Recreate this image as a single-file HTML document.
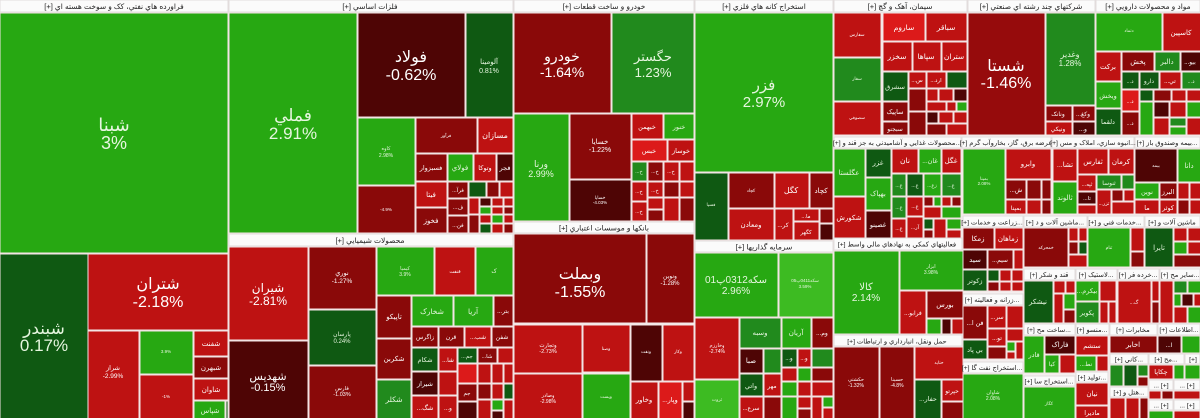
<!DOCTYPE html>
<html><head><meta charset="utf-8">
<style>
html,body{margin:0;padding:0;background:#f4eeee;width:1200px;height:418px;overflow:hidden}
svg{display:block;font-family:"Liberation Sans","DejaVu Sans",sans-serif}
rect{stroke:#f3e4e4;stroke-width:1}
.g1{fill:#27a812}.g4{fill:#3dbb22}.g2{fill:#218a1d}.g3{fill:#0f5912}
.r1{fill:#be1212}.r4{fill:#dc1a1a}.r2{fill:#8a0909}.r3{fill:#4e0505}.r6{fill:#960b0c}
.hd{fill:#fbfbfb;stroke:#e2dcdc}
text{text-anchor:middle;fill:#fff}
.lg{fill:#e6f6df}
.h{fill:#222;font-size:7.5px;direction:rtl;unicode-bidi:embed}
.hs{fill:#222;font-size:6.8px;direction:rtl;unicode-bidi:embed}
</style></head><body>
<svg width="1200" height="418" viewBox="0 0 1200 418" xmlns="http://www.w3.org/2000/svg">
<!-- top headers -->
<rect class="hd" x="0" y="0" width="228" height="12"/>
<rect class="hd" x="229" y="0" width="284" height="12"/>
<rect class="hd" x="514" y="0" width="180" height="12"/>
<rect class="hd" x="695" y="0" width="138" height="12"/>
<rect class="hd" x="834" y="0" width="133" height="12"/>
<rect class="hd" x="968" y="0" width="127" height="12"/>
<rect class="hd" x="1096" y="0" width="104" height="12"/>
<text class="h" x="114" y="9">فراورده هاي نفتي، کک و سوخت هسته اي [+]</text>
<text class="h" x="370" y="9">فلزات اساسي [+]</text>
<text class="h" x="604" y="9">خودرو و ساخت قطعات [+]</text>
<text class="h" x="764" y="9">استخراج کانه هاي فلزي [+]</text>
<text class="h" x="900" y="9">سيمان، آهک و گچ [+]</text>
<text class="h" x="1031" y="9">شرکتهاي چند رشته اي صنعتي [+]</text>
<text class="h" x="1148" y="9">مواد و محصولات دارويي [+]</text>

<!-- Sector 1 -->
<rect class="g1" x="0" y="13" width="228" height="240"/>
<rect class="g3" x="0" y="254" width="88" height="165"/>
<rect class="r1" x="88" y="254" width="140" height="76"/>
<rect class="r1" x="88" y="331" width="51" height="88"/>
<rect class="g1" x="140" y="331" width="53" height="43"/>
<rect class="r1" x="140" y="375" width="53" height="44"/>
<rect class="r1" x="194" y="331" width="34" height="25"/>
<rect class="r2" x="194" y="357" width="34" height="21"/>
<rect class="r1" x="194" y="379" width="34" height="21"/>
<rect class="g1" x="194" y="401" width="31" height="18"/>
<rect class="g3" x="226" y="401" width="2" height="18"/>
<text class="lg" x="114" y="131" font-size="18">شبنا</text>
<text class="lg" x="114" y="149" font-size="18">3%</text>
<text class="lg" x="44" y="334" font-size="17">شبندر</text>
<text class="lg" x="44" y="351" font-size="17">0.17%</text>
<text x="158" y="289" font-size="16">شتران</text>
<text x="158" y="307" font-size="16">-2.18%</text>
<text x="113" y="370" font-size="6.5">شراز</text>
<text x="113" y="378" font-size="6.5">-2.99%</text>
<text class="lg" x="166" y="353" font-size="4.5">3.9%</text>
<text x="166" y="398" font-size="4.5">-1%</text>
<text x="211" y="346" font-size="7">شفنت</text>
<text x="211" y="370" font-size="7">شبهرن</text>
<text x="211" y="392" font-size="7">شاوان</text>
<text class="lg" x="210" y="413" font-size="7">شپاس</text>

<!-- Sector 2 -->
<rect class="g1" x="229" y="13" width="128" height="220"/>
<rect class="r3" x="358" y="13" width="107" height="104"/>
<rect class="g3" x="466" y="13" width="47" height="104"/>
<rect class="g1" x="358" y="118" width="57" height="67"/>
<rect class="r2" x="358" y="186" width="57" height="47"/>
<rect class="r2" x="416" y="118" width="61" height="35"/>
<rect class="r1" x="478" y="118" width="35" height="35"/>
<rect class="r2" x="416" y="154" width="31" height="27"/>
<rect class="g1" x="448" y="154" width="25" height="27"/>
<rect class="r1" x="474" y="154" width="22" height="27"/>
<rect class="r3" x="497" y="154" width="16" height="27"/>
<rect class="r1" x="416" y="182" width="31" height="25"/>
<rect class="r2" x="416" y="208" width="31" height="25"/>
<rect class="r2" x="448" y="182" width="20" height="16"/>
<rect class="r2" x="448" y="199" width="20" height="16"/>
<rect class="r2" x="448" y="216" width="20" height="17"/>
<rect class="g3" x="469" y="182" width="17" height="15"/>
<rect class="r2" x="487" y="182" width="12" height="15"/>
<rect class="r1" x="500" y="182" width="13" height="15"/>
<rect class="r1" x="469" y="198" width="10" height="16"/>
<rect class="r3" x="480" y="198" width="11" height="8"/>
<rect class="r1" x="492" y="198" width="11" height="8"/>
<rect class="r1" x="504" y="198" width="9" height="8"/>
<rect class="g1" x="480" y="207" width="11" height="7"/>
<rect class="r1" x="492" y="207" width="11" height="7"/>
<rect class="r2" x="504" y="207" width="9" height="7"/>
<rect class="r2" x="469" y="215" width="10" height="18"/>
<rect class="r1" x="480" y="215" width="11" height="8"/>
<rect class="g1" x="492" y="215" width="11" height="8"/>
<rect class="r1" x="504" y="215" width="9" height="8"/>
<rect class="g3" x="480" y="224" width="11" height="9"/>
<rect class="r1" x="492" y="224" width="11" height="9"/>
<rect class="r2" x="504" y="224" width="9" height="9"/>
<text class="lg" x="293" y="121" font-size="17">فملي</text>
<text class="lg" x="293" y="139" font-size="17">2.91%</text>
<text x="411" y="62" font-size="16">فولاد</text>
<text x="411" y="80" font-size="16">-0.62%</text>
<text class="lg" x="489" y="64" font-size="7">آلومينا</text>
<text class="lg" x="489" y="73" font-size="7">0.81%</text>
<text class="lg" x="386" y="150" font-size="5">کاوه</text>
<text class="lg" x="386" y="157" font-size="5">2.98%</text>
<text x="386" y="211" font-size="4.5">-4.9%</text>
<text x="446" y="137" font-size="4.5">فرآور</text>
<text x="495" y="138" font-size="8">مسازان</text>
<text x="431" y="170" font-size="6.5">فسبزوار</text>
<text class="lg" x="460" y="170" font-size="7">فولاي</text>
<text x="485" y="170" font-size="6.5">وتوکا</text>
<text x="505" y="170" font-size="6.5">فجر</text>
<text x="431" y="197" font-size="7">فيتا</text>
<text x="431" y="223" font-size="7">فخوز</text>
<text x="458" y="192" font-size="5.5">...فرآ</text>
<text x="458" y="209" font-size="5.5">...ف</text>
<text x="458" y="227" font-size="5.5">...فن</text>

<!-- Chem -->
<rect class="hd" x="229" y="234" width="284" height="12"/>
<text class="h" x="370" y="243">محصولات شيميايي [+]</text>
<rect class="r1" x="229" y="247" width="79" height="93"/>
<rect class="r3" x="229" y="341" width="79" height="78"/>
<rect class="r2" x="309" y="247" width="67" height="62"/>
<rect class="g3" x="309" y="310" width="67" height="55"/>
<rect class="r2" x="309" y="366" width="67" height="53"/>
<rect class="g1" x="377" y="247" width="57" height="48"/>
<rect class="r1" x="435" y="247" width="40" height="48"/>
<rect class="g1" x="476" y="247" width="37" height="48"/>
<rect class="r2" x="377" y="296" width="34" height="42"/>
<rect class="r2" x="377" y="339" width="34" height="40"/>
<rect class="g2" x="377" y="380" width="34" height="39"/>
<rect class="g1" x="412" y="296" width="41" height="30"/>
<rect class="g1" x="454" y="296" width="39" height="30"/>
<rect class="r2" x="494" y="296" width="19" height="30"/>
<rect class="r2" x="412" y="327" width="26" height="20"/>
<rect class="r2" x="439" y="327" width="25" height="20"/>
<rect class="r1" x="465" y="327" width="26" height="20"/>
<rect class="r2" x="492" y="327" width="21" height="20"/>
<rect class="g3" x="412" y="348" width="26" height="23"/>
<rect class="r1" x="439" y="348" width="18" height="23"/>
<rect class="g3" x="458" y="348" width="19" height="15"/>
<rect class="r2" x="478" y="348" width="19" height="15"/>
<rect class="r1" x="498" y="348" width="15" height="15"/>
<rect class="r3" x="412" y="372" width="26" height="23"/>
<rect class="r1" x="412" y="396" width="26" height="23"/>
<rect class="r1" x="439" y="372" width="18" height="23"/>
<rect class="r1" x="439" y="396" width="18" height="23"/>
<rect class="r4" x="458" y="364" width="19" height="19"/>
<rect class="r2" x="458" y="384" width="19" height="17"/>
<rect class="r3" x="458" y="402" width="19" height="17"/>
<rect class="r1" x="478" y="364" width="13" height="19"/>
<rect class="r1" x="492" y="364" width="11" height="19"/>
<rect class="r1" x="504" y="364" width="9" height="19"/>
<rect class="r2" x="478" y="384" width="13" height="15"/>
<rect class="r1" x="492" y="384" width="11" height="15"/>
<rect class="g3" x="504" y="384" width="9" height="15"/>
<rect class="r1" x="478" y="400" width="13" height="19"/>
<rect class="g1" x="492" y="400" width="11" height="10"/>
<rect class="r3" x="492" y="411" width="11" height="8"/>
<rect class="r1" x="504" y="400" width="9" height="19"/>
<text x="268" y="292" font-size="12">شيران</text>
<text x="268" y="305" font-size="12">-2.81%</text>
<text x="268" y="380" font-size="11">شهديس</text>
<text x="268" y="391" font-size="11">-0.15%</text>
<text x="342" y="275" font-size="6.5">نوري</text>
<text x="342" y="283" font-size="6.5">-1.27%</text>
<text class="lg" x="342" y="336" font-size="6">پارسان</text>
<text class="lg" x="342" y="343" font-size="6">0.24%</text>
<text x="342" y="390" font-size="5.5">فارس</text>
<text x="342" y="396" font-size="5.5">-1.03%</text>
<text class="lg" x="405" y="270" font-size="5">کيميا</text>
<text class="lg" x="405" y="276" font-size="5">3.9%</text>
<text x="455" y="273" font-size="5">فنفت</text>
<text class="lg" x="494" y="273" font-size="6">ک</text>
<text x="394" y="319" font-size="7">تاپيکو</text>
<text x="394" y="361" font-size="7">شکربن</text>
<text class="lg" x="394" y="402" font-size="7.5">شکلر</text>
<text class="lg" x="432" y="314" font-size="7.5">شخارک</text>
<text class="lg" x="473" y="314" font-size="7.5">آريا</text>
<text x="503" y="313" font-size="6">...بتر</text>
<text x="425" y="339" font-size="6">زاگرس</text>
<text x="451" y="339" font-size="6">قرن</text>
<text x="478" y="339" font-size="6">...شب</text>
<text x="502" y="339" font-size="6">شفن</text>
<text class="lg" x="425" y="362" font-size="6.5">شکام</text>
<text x="448" y="362" font-size="6">...شا</text>
<text class="lg" x="467" y="358" font-size="5.5">...جم</text>
<text x="487" y="358" font-size="5.5">...شا</text>
<text x="425" y="386" font-size="6.5">شيراز</text>
<text x="425" y="410" font-size="6.5">...شگ</text>
<text x="448" y="410" font-size="6">...و</text>
<text x="467" y="395" font-size="5.5">جم</text>

<!-- Sector 3 -->
<rect class="r2" x="514" y="13" width="97" height="100"/>
<rect class="g2" x="612" y="13" width="82" height="100"/>
<rect class="g1" x="514" y="114" width="55" height="107"/>
<rect class="r2" x="570" y="114" width="61" height="65"/>
<rect class="r3" x="570" y="180" width="61" height="41"/>
<rect class="r1" x="632" y="114" width="31" height="25"/>
<rect class="g1" x="664" y="114" width="30" height="25"/>
<rect class="r4" x="632" y="140" width="35" height="21"/>
<rect class="r1" x="668" y="140" width="26" height="21"/>
<rect class="g2" x="632" y="162" width="15" height="19"/>
<rect class="r2" x="648" y="162" width="15" height="19"/>
<rect class="r1" x="664" y="162" width="15" height="19"/>
<rect class="r1" x="680" y="162" width="14" height="19"/>
<rect class="r1" x="632" y="182" width="15" height="19"/>
<rect class="r1" x="648" y="182" width="15" height="15"/>
<rect class="r2" x="664" y="182" width="15" height="15"/>
<rect class="r1" x="680" y="182" width="14" height="15"/>
<rect class="r1" x="632" y="202" width="15" height="19"/>
<rect class="r1" x="648" y="198" width="15" height="11"/>
<rect class="r2" x="648" y="210" width="15" height="11"/>
<rect class="r1" x="664" y="198" width="15" height="23"/>
<rect class="r2" x="680" y="198" width="14" height="23"/>
<text x="562" y="61" font-size="14">خودرو</text>
<text x="562" y="77" font-size="14">-1.64%</text>
<text class="lg" x="653" y="61" font-size="13">حگستر</text>
<text class="lg" x="653" y="77" font-size="13">1.23%</text>
<text class="lg" x="541" y="167" font-size="9">ورنا</text>
<text class="lg" x="541" y="177" font-size="9">2.99%</text>
<text x="600" y="144" font-size="7">خسايا</text>
<text x="600" y="152" font-size="7">-1.22%</text>
<text x="600" y="199" font-size="4.5">خساپا</text>
<text x="600" y="204" font-size="4.5">-4.03%</text>
<text x="647" y="129" font-size="6.5">خبهمن</text>
<text class="lg" x="679" y="129" font-size="6.5">خنور</text>
<text x="649" y="153" font-size="6.5">خبس</text>
<text x="681" y="153" font-size="6.5">خوساز</text>
<text class="lg" x="639" y="173" font-size="5">...خ</text>
<text x="655" y="173" font-size="5">...خ</text>
<text x="671" y="173" font-size="5">...خ</text>
<text x="639" y="193" font-size="5">...خ</text>
<text x="655" y="192" font-size="5">...خ</text>
<text x="639" y="213" font-size="5">...خ</text>

<!-- Bank -->
<rect class="hd" x="514" y="222" width="180" height="11"/>
<text class="h" x="604" y="230.5">بانکها و موسسات اعتباري [+]</text>
<rect class="r2" x="514" y="234" width="132" height="89"/>
<rect class="r2" x="647" y="234" width="47" height="89"/>
<rect class="r1" x="514" y="325" width="68" height="48"/>
<rect class="r1" x="583" y="325" width="47" height="47"/>
<rect class="r3" x="631" y="325" width="31" height="56"/>
<rect class="r1" x="663" y="325" width="31" height="56"/>
<rect class="r1" x="514" y="374" width="68" height="45"/>
<rect class="g1" x="583" y="374" width="47" height="45"/>
<rect class="r1" x="631" y="382" width="27" height="37"/>
<rect class="r4" x="659" y="382" width="23" height="37"/>
<rect class="r1" x="683" y="382" width="11" height="19"/>
<rect class="r3" x="683" y="402" width="11" height="17"/>
<text x="580" y="279" font-size="16">وبملت</text>
<text x="580" y="297" font-size="16">-1.55%</text>
<text x="670" y="278" font-size="6">ونوين</text>
<text x="670" y="285" font-size="6">-1.28%</text>
<text x="548" y="347" font-size="5.5">وتجارت</text>
<text x="548" y="353" font-size="5.5">-2.73%</text>
<text x="606" y="350" font-size="4.5">وصنا</text>
<text x="646" y="353" font-size="4.5">ونفت</text>
<text x="678" y="353" font-size="4.5">وکار</text>
<text x="548" y="397" font-size="5">وصادر</text>
<text x="548" y="403" font-size="5">-2.98%</text>
<text class="lg" x="606" y="398" font-size="4.5">وپست</text>
<text x="644" y="402" font-size="7">وخاور</text>
<text x="670" y="402" font-size="6.5">...وپار</text>

<!-- Sector 4 -->
<rect class="g1" x="695" y="13" width="138" height="159"/>
<rect class="g3" x="695" y="173" width="33" height="67"/>
<rect class="r2" x="729" y="173" width="45" height="35"/>
<rect class="r1" x="775" y="173" width="34" height="35"/>
<rect class="r2" x="810" y="173" width="23" height="35"/>
<rect class="r1" x="729" y="209" width="45" height="31"/>
<rect class="r1" x="775" y="209" width="18" height="31"/>
<rect class="r1" x="794" y="209" width="25" height="12"/>
<rect class="r1" x="794" y="222" width="25" height="18"/>
<rect class="r2" x="820" y="209" width="13" height="14"/>
<rect class="r3" x="820" y="224" width="13" height="16"/>
<text class="lg" x="764" y="90" font-size="15">فزر</text>
<text class="lg" x="764" y="107" font-size="15">2.97%</text>
<text class="lg" x="711" y="206" font-size="4.5">فسپا</text>
<text x="751" y="192" font-size="4.5">کچاد</text>
<text x="791" y="193" font-size="8">کگل</text>
<text x="821" y="193" font-size="7">کچاد</text>
<text x="751" y="227" font-size="7">ومعادن</text>
<text x="783" y="227" font-size="6">...کر</text>
<text x="806" y="218" font-size="5.5">...ما</text>
<text x="806" y="234" font-size="5.5">کگهر</text>

<!-- Sector 5 -->
<rect class="hd" x="695" y="241" width="138" height="11"/>
<text class="h" x="764" y="249.5">سرمايه گذاريها [+]</text>
<rect class="g1" x="695" y="253" width="83" height="64"/>
<rect class="g4" x="779" y="253" width="54" height="64"/>
<rect class="r1" x="695" y="318" width="44" height="61"/>
<rect class="g4" x="695" y="380" width="44" height="39"/>
<rect class="g2" x="740" y="318" width="41" height="30"/>
<rect class="g1" x="782" y="318" width="29" height="30"/>
<rect class="r2" x="812" y="318" width="21" height="30"/>
<rect class="r3" x="740" y="349" width="23" height="24"/>
<rect class="g2" x="764" y="349" width="17" height="24"/>
<rect class="g3" x="782" y="349" width="15" height="18"/>
<rect class="r1" x="798" y="349" width="13" height="18"/>
<rect class="g2" x="812" y="349" width="21" height="18"/>
<rect class="g3" x="740" y="374" width="23" height="22"/>
<rect class="r1" x="764" y="374" width="17" height="22"/>
<rect class="r1" x="740" y="397" width="23" height="22"/>
<rect class="r2" x="764" y="397" width="17" height="22"/>
<rect class="r1" x="782" y="368" width="15" height="13"/>
<rect class="g1" x="798" y="368" width="13" height="13"/>
<rect class="r2" x="812" y="368" width="21" height="13"/>
<rect class="g1" x="782" y="382" width="15" height="14"/>
<rect class="r1" x="798" y="382" width="13" height="14"/>
<rect class="r1" x="812" y="382" width="21" height="14"/>
<rect class="g1" x="782" y="397" width="15" height="22"/>
<rect class="r1" x="798" y="397" width="13" height="11"/>
<rect class="r2" x="798" y="409" width="13" height="10"/>
<rect class="r1" x="812" y="397" width="10" height="22"/>
<rect class="g1" x="823" y="397" width="10" height="10"/>
<rect class="r1" x="823" y="408" width="10" height="11"/>
<text class="lg" x="736" y="283" font-size="10">سکه0312پ01</text>
<text class="lg" x="736" y="294" font-size="10">2.96%</text>
<text class="lg" x="805" y="282" font-size="4.5">سکه0411پ05</text>
<text class="lg" x="805" y="288" font-size="4.5">3.59%</text>
<text x="717" y="347" font-size="5">وخارزم</text>
<text x="717" y="353" font-size="5">-2.74%</text>
<text class="lg" x="717" y="401" font-size="4.5">ثروت</text>
<text class="lg" x="760" y="335" font-size="7">وسبه</text>
<text class="lg" x="796" y="335" font-size="7">آريان</text>
<text x="822" y="335" font-size="6">...وم</text>
<text x="751" y="363" font-size="7">صبا</text>
<text x="789" y="360" font-size="5.5">...و</text>
<text x="804" y="360" font-size="5.5">...و</text>
<text class="lg" x="751" y="388" font-size="6.5">واتي</text>
<text x="772" y="388" font-size="6">مهر</text>
<text x="751" y="410" font-size="6">...سرع</text>

<!-- Sector 6 -->
<rect class="r1" x="834" y="13" width="47" height="44"/>
<rect class="g2" x="834" y="58" width="47" height="43"/>
<rect class="r1" x="834" y="102" width="47" height="33"/>
<rect class="r4" x="883" y="13" width="42" height="28"/>
<rect class="r1" x="926" y="13" width="41" height="28"/>
<rect class="r1" x="883" y="42" width="29" height="29"/>
<rect class="r1" x="913" y="42" width="28" height="29"/>
<rect class="r1" x="942" y="42" width="25" height="29"/>
<rect class="g3" x="883" y="72" width="25" height="29"/>
<rect class="r2" x="883" y="102" width="25" height="19"/>
<rect class="r2" x="883" y="122" width="25" height="13"/>
<rect class="r1" x="909" y="72" width="17" height="16"/>
<rect class="r1" x="927" y="72" width="19" height="16"/>
<rect class="g3" x="947" y="72" width="20" height="16"/>
<rect class="r2" x="909" y="89" width="17" height="22"/>
<rect class="r1" x="927" y="89" width="11" height="12"/>
<rect class="r1" x="939" y="89" width="14" height="12"/>
<rect class="r3" x="954" y="89" width="13" height="12"/>
<rect class="r1" x="927" y="102" width="19" height="9"/>
<rect class="r1" x="947" y="102" width="9" height="9"/>
<rect class="g1" x="957" y="102" width="10" height="9"/>
<rect class="r2" x="909" y="112" width="17" height="23"/>
<rect class="r3" x="927" y="112" width="11" height="11"/>
<rect class="r1" x="939" y="112" width="14" height="11"/>
<rect class="r1" x="954" y="112" width="13" height="11"/>
<rect class="r2" x="927" y="124" width="19" height="11"/>
<rect class="r1" x="947" y="124" width="20" height="11"/>
<text x="857" y="36" font-size="4.5">سفارس</text>
<text class="lg" x="857" y="80" font-size="4.5">سفار</text>
<text x="857" y="119" font-size="4.5">سصوفي</text>
<text x="904" y="30" font-size="7.5">ساروم</text>
<text x="946" y="30" font-size="7.5">سباقر</text>
<text x="897" y="59" font-size="7.5">سخزر</text>
<text x="926" y="59" font-size="7.5">سپاها</text>
<text x="954" y="59" font-size="7.5">ستران</text>
<text class="lg" x="895" y="89" font-size="6.5">سشرق</text>
<text x="895" y="114" font-size="6.5">ساپيک</text>
<text x="895" y="131" font-size="6">سبجنو</text>
<text x="917" y="82" font-size="5.5">...س</text>
<text x="936" y="82" font-size="5.5">...ارد</text>

<!-- Sector 7 -->
<rect class="r6" x="968" y="13" width="77" height="122"/>
<rect class="g2" x="1046" y="13" width="49" height="92"/>
<rect class="r2" x="1046" y="106" width="26" height="15"/>
<rect class="r2" x="1073" y="106" width="22" height="15"/>
<rect class="r1" x="1046" y="122" width="26" height="13"/>
<rect class="r3" x="1073" y="122" width="22" height="13"/>
<text x="1006" y="71" font-size="16">شستا</text>
<text x="1006" y="88" font-size="16">-1.46%</text>
<text class="lg" x="1070" y="57" font-size="8">وغدير</text>
<text class="lg" x="1070" y="66" font-size="8">1.28%</text>
<text x="1058" y="116" font-size="6">ونانک</text>
<text x="1083" y="116" font-size="6">...وکغ</text>
<text x="1058" y="131" font-size="6">ونيکي</text>
<text x="1083" y="131" font-size="6">...و</text>

<!-- Sector 8 -->
<rect class="g1" x="1096" y="13" width="66" height="38"/>
<rect class="r1" x="1163" y="13" width="38" height="38"/>
<rect class="r1" x="1096" y="52" width="25" height="29"/>
<rect class="g1" x="1096" y="82" width="25" height="26"/>
<rect class="g3" x="1096" y="109" width="25" height="26"/>
<rect class="r2" x="1122" y="52" width="32" height="19"/>
<rect class="g2" x="1155" y="52" width="25" height="19"/>
<rect class="r3" x="1181" y="52" width="20" height="19"/>
<rect class="g3" x="1122" y="72" width="17" height="17"/>
<rect class="g3" x="1140" y="72" width="19" height="17"/>
<rect class="r1" x="1160" y="72" width="21" height="17"/>
<rect class="g2" x="1182" y="72" width="19" height="17"/>
<rect class="r4" x="1122" y="90" width="17" height="21"/>
<rect class="g3" x="1140" y="90" width="13" height="11"/>
<rect class="r2" x="1154" y="90" width="17" height="11"/>
<rect class="r1" x="1172" y="90" width="14" height="11"/>
<rect class="r1" x="1187" y="90" width="14" height="11"/>
<rect class="r2" x="1122" y="112" width="17" height="23"/>
<rect class="g1" x="1140" y="102" width="13" height="33"/>
<rect class="r3" x="1154" y="102" width="15" height="15"/>
<rect class="r1" x="1170" y="102" width="16" height="15"/>
<rect class="g1" x="1187" y="102" width="14" height="15"/>
<rect class="r1" x="1154" y="118" width="15" height="17"/>
<rect class="g2" x="1170" y="118" width="16" height="8"/>
<rect class="g1" x="1170" y="127" width="16" height="8"/>
<rect class="r1" x="1187" y="118" width="14" height="17"/>
<text class="lg" x="1129" y="32" font-size="4.5">دتماد</text>
<text x="1181" y="35" font-size="7">کاسپين</text>
<text x="1108" y="69" font-size="7">برکت</text>
<text class="lg" x="1108" y="98" font-size="6.5">ويخش</text>
<text class="lg" x="1108" y="124" font-size="6.5">دلقما</text>
<text x="1138" y="64" font-size="7">پخش</text>
<text class="lg" x="1167" y="64" font-size="7">دالبر</text>
<text x="1190" y="64" font-size="6">...بيو</text>
<text class="lg" x="1130" y="83" font-size="5.5">...د</text>
<text class="lg" x="1149" y="83" font-size="6">دارو</text>
<text x="1170" y="83" font-size="6">...تي</text>
<text class="lg" x="1191" y="83" font-size="5.5">...د</text>
<text x="1130" y="103" font-size="5.5">...د</text>
<text x="1130" y="125" font-size="5.5">...د</text>

<!-- Header row 2 -->
<rect class="hd" x="834" y="137" width="127" height="11"/>
<rect class="hd" x="962" y="137" width="89" height="11"/>
<rect class="hd" x="1052" y="137" width="82" height="11"/>
<rect class="hd" x="1135" y="137" width="65" height="11"/>
<text class="hs" x="897" y="145">...محصولات غذايي و آشاميدني به جز قند و [+]</text>
<text class="hs" x="1006" y="145">عرضه برق، گاز، بخاروآب گرم [+]</text>
<text class="hs" x="1093" y="145">...انبوه سازي، املاک و مس [+]</text>
<text class="hs" x="1167" y="145">...بيمه وصندوق باز [+]</text>

<!-- Food -->
<rect class="g1" x="834" y="149" width="31" height="47"/>
<rect class="r1" x="834" y="197" width="31" height="41"/>
<rect class="g3" x="866" y="149" width="25" height="28"/>
<rect class="g1" x="866" y="178" width="25" height="32"/>
<rect class="r3" x="866" y="211" width="25" height="27"/>
<rect class="r1" x="892" y="149" width="26" height="24"/>
<rect class="g1" x="919" y="149" width="22" height="24"/>
<rect class="r1" x="942" y="149" width="19" height="24"/>
<rect class="g2" x="892" y="174" width="14" height="22"/>
<rect class="g3" x="907" y="174" width="16" height="22"/>
<rect class="g1" x="924" y="174" width="17" height="22"/>
<rect class="g2" x="942" y="174" width="19" height="22"/>
<rect class="g2" x="892" y="197" width="14" height="21"/>
<rect class="r1" x="907" y="197" width="16" height="19"/>
<rect class="r2" x="924" y="197" width="9" height="9"/>
<rect class="g1" x="934" y="197" width="7" height="9"/>
<rect class="r1" x="942" y="197" width="9" height="9"/>
<rect class="r2" x="952" y="197" width="9" height="9"/>
<rect class="r1" x="924" y="207" width="17" height="11"/>
<rect class="g1" x="942" y="207" width="19" height="11"/>
<rect class="r1" x="892" y="219" width="14" height="19"/>
<rect class="r1" x="907" y="217" width="16" height="21"/>
<rect class="g3" x="924" y="219" width="9" height="10"/>
<rect class="r1" x="934" y="219" width="12" height="19"/>
<rect class="g1" x="947" y="219" width="14" height="10"/>
<rect class="r2" x="924" y="230" width="9" height="8"/>
<rect class="r1" x="947" y="230" width="14" height="8"/>
<text class="lg" x="849" y="175" font-size="7">عگلستا</text>
<text x="849" y="220" font-size="7">شکورش</text>
<text class="lg" x="878" y="165" font-size="7">غزر</text>
<text class="lg" x="878" y="196" font-size="7">بهپاک</text>
<text x="878" y="227" font-size="6.5">غصينو</text>
<text x="905" y="163" font-size="7.5">نان</text>
<text class="lg" x="930" y="163" font-size="6.5">...غان</text>
<text x="951" y="163" font-size="7">غگل</text>
<text class="lg" x="899" y="187" font-size="5">...غ</text>
<text class="lg" x="915" y="187" font-size="5">...غ</text>
<text class="lg" x="932" y="187" font-size="5">...زغ</text>
<text class="lg" x="951" y="187" font-size="5">...غ</text>
<text class="lg" x="899" y="209" font-size="5">...غ</text>
<text x="915" y="208" font-size="5">...غ</text>
<text x="899" y="230" font-size="5">...غ</text>
<text x="915" y="229" font-size="5">...آر</text>

<!-- Energy -->
<rect class="g1" x="963" y="149" width="42" height="65"/>
<rect class="r1" x="1006" y="149" width="45" height="30"/>
<rect class="r2" x="1006" y="180" width="20" height="19"/>
<rect class="r2" x="1027" y="180" width="14" height="19"/>
<rect class="r2" x="1042" y="180" width="9" height="19"/>
<rect class="r1" x="1006" y="200" width="20" height="14"/>
<rect class="r1" x="1027" y="200" width="14" height="14"/>
<rect class="r2" x="1042" y="200" width="9" height="14"/>
<text class="lg" x="984" y="180" font-size="4.5">بمپنا</text>
<text class="lg" x="984" y="185" font-size="4.5">2.08%</text>
<text x="1028" y="166" font-size="7">وابرو</text>
<text x="1016" y="192" font-size="6">...ش</text>
<text x="1016" y="210" font-size="6">بمپنا</text>

<!-- Anbooh -->
<rect class="r1" x="1053" y="149" width="24" height="32"/>
<rect class="g1" x="1053" y="182" width="24" height="32"/>
<rect class="r1" x="1078" y="149" width="30" height="25"/>
<rect class="r1" x="1109" y="149" width="25" height="25"/>
<rect class="r1" x="1078" y="175" width="18" height="16"/>
<rect class="g2" x="1097" y="175" width="24" height="14"/>
<rect class="g2" x="1122" y="175" width="12" height="14"/>
<rect class="r3" x="1078" y="192" width="18" height="12"/>
<rect class="r1" x="1078" y="205" width="18" height="9"/>
<rect class="r1" x="1097" y="190" width="14" height="24"/>
<rect class="r2" x="1112" y="190" width="11" height="11"/>
<rect class="r1" x="1124" y="190" width="10" height="11"/>
<rect class="r1" x="1112" y="202" width="22" height="12"/>
<text x="1065" y="167" font-size="7">...تشا</text>
<text class="lg" x="1065" y="200" font-size="7">ثالوند</text>
<text x="1093" y="164" font-size="7">ثفارس</text>
<text x="1121" y="164" font-size="7">کرمان</text>
<text x="1087" y="186" font-size="5.5">...ثپه</text>
<text class="lg" x="1109" y="185" font-size="6">ثنوسا</text>
<text x="1087" y="200" font-size="5.5">...تا</text>
<text x="1104" y="205" font-size="5">...ثزر</text>

<!-- Bime -->
<rect class="r3" x="1135" y="149" width="42" height="33"/>
<rect class="g1" x="1178" y="149" width="23" height="33"/>
<rect class="g1" x="1135" y="183" width="24" height="16"/>
<rect class="r2" x="1160" y="183" width="17" height="16"/>
<rect class="r1" x="1178" y="183" width="11" height="16"/>
<rect class="r1" x="1190" y="183" width="11" height="16"/>
<rect class="r1" x="1135" y="200" width="24" height="14"/>
<rect class="r1" x="1160" y="200" width="17" height="14"/>
<rect class="r2" x="1178" y="200" width="11" height="14"/>
<rect class="r1" x="1190" y="200" width="11" height="14"/>
<text x="1156" y="167" font-size="4.5">بيمه</text>
<text class="lg" x="1189" y="168" font-size="7">دانا</text>
<text class="lg" x="1147" y="194" font-size="6.5">نوين</text>
<text x="1168" y="194" font-size="6.5">البرز</text>
<text x="1147" y="210" font-size="6.5">ما</text>
<text x="1168" y="210" font-size="6.5">کوثر</text>

<!-- Financial -->
<rect class="hd" x="834" y="238" width="128" height="12"/>
<text class="hs" x="897" y="246.5">فعاليتهاي کمکي به نهادهاي مالي واسط [+]</text>
<rect class="g1" x="834" y="251" width="65" height="83"/>
<rect class="g1" x="900" y="251" width="63" height="39"/>
<rect class="r1" x="900" y="291" width="26" height="43"/>
<rect class="r2" x="927" y="291" width="36" height="27"/>
<rect class="g1" x="927" y="319" width="14" height="15"/>
<rect class="r3" x="942" y="319" width="9" height="15"/>
<rect class="r1" x="952" y="319" width="11" height="15"/>
<text class="lg" x="866" y="290" font-size="10">کالا</text>
<text class="lg" x="866" y="301" font-size="10">2.14%</text>
<text class="lg" x="931" y="268" font-size="5">ابزار</text>
<text class="lg" x="931" y="274" font-size="5">3.98%</text>
<text x="913" y="315" font-size="6">...فرابو</text>
<text x="945" y="307" font-size="7">بورس</text>

<!-- Transport -->
<rect class="hd" x="834" y="335" width="128" height="11"/>
<text class="hs" x="897" y="343.5">حمل ونقل، انبارداري و ارتباطات [+]</text>
<rect class="r2" x="834" y="347" width="45" height="72"/>
<rect class="r2" x="880" y="347" width="34" height="72"/>
<rect class="r1" x="915" y="347" width="48" height="32"/>
<rect class="g3" x="915" y="380" width="26" height="39"/>
<rect class="r1" x="942" y="380" width="21" height="21"/>
<rect class="r2" x="942" y="402" width="21" height="17"/>
<text x="856" y="381" font-size="5">حکشتي</text>
<text x="856" y="387" font-size="5">-1.32%</text>
<text x="897" y="381" font-size="5">حسينا</text>
<text x="897" y="387" font-size="5">-4.8%</text>
<text x="939" y="364" font-size="4.5">حتايد</text>
<text class="lg" x="928" y="401" font-size="6.5">...حفار</text>
<text x="952" y="393" font-size="6">حپرتو</text>

<!-- Right lower area: headers -->
<rect class="hd" x="963" y="216" width="60" height="11"/>
<rect class="hd" x="1024" y="216" width="63" height="11"/>
<rect class="hd" x="1088" y="216" width="56" height="11"/>
<rect class="hd" x="1145" y="216" width="55" height="11"/>
<text class="hs" x="992" y="224.5">...زراعت و خدمات [+]</text>
<text class="hs" x="1055" y="224.5">...ماشين آلات و د [+]</text>
<text class="hs" x="1115" y="224.5">...خدمات فني و [+]</text>
<text class="hs" x="1172" y="224.5">ماشين آلات و [+]</text>

<!-- Zeraat col -->
<rect class="r2" x="963" y="228" width="31" height="21"/>
<rect class="r1" x="995" y="228" width="28" height="21"/>
<rect class="r3" x="963" y="250" width="24" height="19"/>
<rect class="r2" x="988" y="250" width="25" height="19"/>
<rect class="r1" x="1014" y="250" width="9" height="19"/>
<rect class="g3" x="963" y="270" width="24" height="21"/>
<rect class="g3" x="988" y="270" width="11" height="11"/>
<rect class="r1" x="1000" y="270" width="11" height="11"/>
<rect class="r1" x="1012" y="270" width="11" height="11"/>
<rect class="r2" x="988" y="282" width="11" height="9"/>
<rect class="r1" x="1000" y="282" width="11" height="9"/>
<rect class="r1" x="1012" y="282" width="11" height="9"/>
<text x="978" y="241" font-size="7">زمکا</text>
<text x="1008" y="241" font-size="7">زماهان</text>
<text x="975" y="262" font-size="7">سيد</text>
<text x="1000" y="262" font-size="6">...سيم</text>
<text class="lg" x="975" y="283" font-size="6.5">زکوتر</text>
<rect class="hd" x="963" y="294" width="60" height="11"/>
<text class="hs" x="992" y="302">...زرانه و فعاليته [+]</text>
<rect class="r2" x="963" y="306" width="24" height="33"/>
<rect class="g3" x="963" y="340" width="24" height="19"/>
<rect class="r1" x="988" y="306" width="18" height="22"/>
<rect class="r1" x="1007" y="306" width="16" height="22"/>
<rect class="r1" x="988" y="329" width="18" height="17"/>
<rect class="r1" x="1007" y="329" width="16" height="12"/>
<rect class="g1" x="1007" y="342" width="8" height="9"/>
<rect class="r1" x="1016" y="342" width="7" height="17"/>
<rect class="r2" x="988" y="347" width="18" height="12"/>
<rect class="r1" x="1007" y="352" width="8" height="7"/>
<text x="975" y="325" font-size="6.5">...فن ا</text>
<text class="lg" x="975" y="352" font-size="6.5">بي پاد</text>
<text x="997" y="319" font-size="6">...سر</text>
<text x="997" y="340" font-size="6">...تو</text>
<rect class="hd" x="963" y="362" width="60" height="11"/>
<text class="hs" x="992" y="370">...استخراج نفت گا [+]</text>
<rect class="g1" x="963" y="374" width="60" height="45"/>
<text class="lg" x="993" y="394" font-size="5">شاوان</text>
<text class="lg" x="993" y="400" font-size="5">2.08%</text>

<!-- Mashin d / khadamat / mashin tiles -->
<rect class="r2" x="1024" y="228" width="44" height="39"/>
<rect class="r1" x="1069" y="228" width="9" height="13"/>
<rect class="r1" x="1079" y="228" width="8" height="13"/>
<rect class="r2" x="1069" y="242" width="9" height="12"/>
<rect class="g3" x="1079" y="242" width="8" height="12"/>
<rect class="r1" x="1069" y="255" width="18" height="12"/>
<rect class="g1" x="1088" y="228" width="42" height="39"/>
<rect class="r1" x="1131" y="228" width="13" height="23"/>
<rect class="r2" x="1131" y="252" width="13" height="15"/>
<rect class="g3" x="1145" y="228" width="28" height="39"/>
<rect class="r1" x="1174" y="228" width="13" height="13"/>
<rect class="r1" x="1188" y="228" width="13" height="13"/>
<rect class="g1" x="1174" y="242" width="13" height="12"/>
<rect class="r1" x="1188" y="242" width="13" height="12"/>
<rect class="r2" x="1174" y="255" width="27" height="12"/>
<text x="1046" y="249" font-size="4.5">خمحرکه</text>
<text class="lg" x="1109" y="249" font-size="4.5">ثنام</text>
<text class="lg" x="1159" y="250" font-size="7">تايرا</text>

<rect class="hd" x="1024" y="269" width="51" height="11"/>
<rect class="hd" x="1076" y="269" width="41" height="11"/>
<rect class="hd" x="1118" y="269" width="41" height="11"/>
<rect class="hd" x="1160" y="269" width="40" height="11"/>
<text class="hs" x="1049" y="277">قند و شکر [+]</text>
<text class="hs" x="1096" y="277">...لاستيک [+]</text>
<text class="hs" x="1138" y="277">...خرده فر [+]</text>
<text class="hs" x="1180" y="277">...ساير مح [+]</text>

<rect class="g3" x="1024" y="281" width="29" height="42"/>
<rect class="r1" x="1054" y="281" width="11" height="12"/>
<rect class="r1" x="1066" y="281" width="9" height="12"/>
<rect class="r1" x="1054" y="294" width="9" height="29"/>
<rect class="g1" x="1064" y="294" width="11" height="15"/>
<rect class="r2" x="1064" y="310" width="11" height="13"/>
<rect class="g1" x="1076" y="281" width="23" height="20"/>
<rect class="g2" x="1076" y="302" width="23" height="21"/>
<rect class="r1" x="1100" y="281" width="16" height="20"/>
<rect class="r1" x="1100" y="302" width="8" height="21"/>
<rect class="r1" x="1109" y="302" width="7" height="21"/>
<rect class="r1" x="1118" y="281" width="33" height="42"/>
<rect class="r1" x="1152" y="281" width="7" height="20"/>
<rect class="r2" x="1152" y="302" width="7" height="21"/>
<rect class="r1" x="1160" y="281" width="13" height="42"/>
<rect class="g2" x="1174" y="281" width="13" height="12"/>
<rect class="g1" x="1188" y="281" width="13" height="12"/>
<rect class="g1" x="1174" y="294" width="7" height="12"/>
<rect class="r3" x="1182" y="294" width="11" height="12"/>
<rect class="r1" x="1194" y="294" width="7" height="12"/>
<rect class="r1" x="1174" y="307" width="13" height="16"/>
<rect class="g1" x="1188" y="307" width="13" height="16"/>
<text class="lg" x="1038" y="304" font-size="7">نيشکر</text>
<text class="lg" x="1087" y="293" font-size="6.5">...بيکرم</text>
<text class="lg" x="1087" y="315" font-size="6.5">پکوير</text>
<text x="1134" y="304" font-size="5">...گ</text>

<rect class="hd" x="1024" y="324" width="51" height="11"/>
<rect class="hd" x="1076" y="324" width="33" height="11"/>
<rect class="hd" x="1110" y="324" width="47" height="11"/>
<rect class="hd" x="1158" y="324" width="42" height="11"/>
<text class="hs" x="1049" y="332">...ساخت مح [+]</text>
<text class="hs" x="1092" y="332">...منسو [+]</text>
<text class="hs" x="1133" y="332">مخابرات [+]</text>
<text class="hs" x="1179" y="332">...اطلاعات [+]</text>

<rect class="g1" x="1024" y="336" width="20" height="37"/>
<rect class="r3" x="1045" y="336" width="30" height="18"/>
<rect class="g1" x="1045" y="355" width="14" height="18"/>
<rect class="r1" x="1060" y="355" width="15" height="18"/>
<rect class="r1" x="1076" y="336" width="32" height="19"/>
<rect class="g1" x="1076" y="356" width="20" height="15"/>
<rect class="r1" x="1097" y="356" width="11" height="15"/>
<rect class="r2" x="1110" y="336" width="47" height="17"/>
<rect class="r3" x="1158" y="336" width="23" height="17"/>
<rect class="g1" x="1182" y="336" width="18" height="17"/>
<text class="lg" x="1034" y="357" font-size="6.5">قادر</text>
<text x="1060" y="347" font-size="7">فاراک</text>
<text class="lg" x="1052" y="366" font-size="6">کيا</text>
<text x="1092" y="348" font-size="6.5">ستشم</text>
<text class="lg" x="1086" y="366" font-size="6">...نط</text>
<text x="1133" y="347" font-size="7">اخابر</text>
<text x="1169" y="347" font-size="6">...ا</text>

<rect class="hd" x="1110" y="354" width="38" height="10"/>
<rect class="hd" x="1149" y="354" width="35" height="10"/>
<rect class="hd" x="1185" y="354" width="15" height="10"/>
<text class="hs" x="1129" y="361.5">...کاني [+]</text>
<text class="hs" x="1166" y="361.5">...مح [+]</text>
<text class="hs" x="1193" y="361.5">[+]</text>
<rect class="g2" x="1110" y="365" width="13" height="21"/>
<rect class="g3" x="1124" y="365" width="13" height="21"/>
<rect class="g2" x="1138" y="365" width="10" height="11"/>
<rect class="r2" x="1138" y="377" width="10" height="9"/>
<rect class="r1" x="1149" y="365" width="24" height="14"/>
<rect class="g1" x="1174" y="365" width="10" height="14"/>
<rect class="g1" x="1185" y="365" width="15" height="14"/>
<text x="1161" y="374" font-size="6.5">چکاپا</text>

<rect class="hd" x="1024" y="376" width="51" height="10"/>
<text class="hs" x="1049" y="383.5">...استخراج سا [+]</text>
<rect class="g1" x="1024" y="387" width="51" height="32"/>
<text class="lg" x="1049" y="405" font-size="4.5">کگاز</text>
<rect class="hd" x="1076" y="372" width="32" height="10"/>
<text class="hs" x="1092" y="379.5">...توليد [+]</text>
<rect class="r1" x="1076" y="383" width="32" height="22"/>
<rect class="r1" x="1076" y="406" width="32" height="13"/>
<text x="1092" y="396" font-size="7">نيان</text>
<text x="1092" y="415" font-size="6.5">ماديرا</text>
<rect class="hd" x="1110" y="387" width="38" height="10"/>
<text class="hs" x="1129" y="394.5">...هتل و [+]</text>
<rect class="r1" x="1110" y="398" width="15" height="21"/>
<rect class="r1" x="1126" y="398" width="13" height="21"/>
<rect class="r2" x="1140" y="398" width="8" height="21"/>
<rect class="hd" x="1149" y="380" width="24" height="10"/>
<rect class="hd" x="1174" y="380" width="26" height="10"/>
<text class="hs" x="1161" y="387.5">[+] ...</text>
<text class="hs" x="1187" y="387.5">[+] ...</text>
<rect class="r1" x="1149" y="391" width="12" height="8"/>
<rect class="r2" x="1162" y="391" width="11" height="8"/>
<rect class="r1" x="1174" y="391" width="26" height="8"/>
<rect class="hd" x="1149" y="400" width="24" height="10"/>
<rect class="hd" x="1174" y="400" width="26" height="10"/>
<text class="hs" x="1161" y="407.5">[+] ...</text>
<text class="hs" x="1187" y="407.5">[+] ...</text>
<rect class="g1" x="1149" y="411" width="24" height="8"/>
<rect class="r1" x="1174" y="411" width="26" height="8"/>
</svg>
</body></html>
